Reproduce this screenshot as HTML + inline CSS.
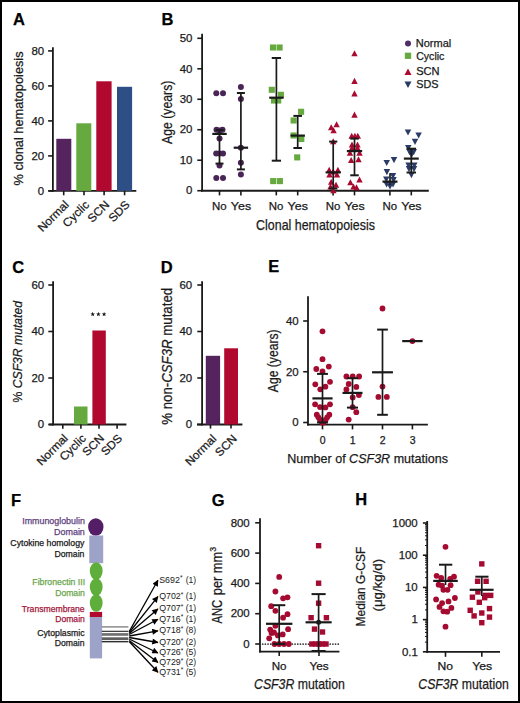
<!DOCTYPE html>
<html><head><meta charset="utf-8"><style>
html,body{margin:0;padding:0;background:#fff;}
.fig{position:relative;width:516px;height:699px;border:2px solid #000;overflow:hidden;background:#fff;}
svg{position:absolute;left:-2px;top:-2px;}
text{font-family:"Liberation Sans", sans-serif;}
</style></head><body><div class="fig">
<svg width="520" height="703" viewBox="0 0 520 703">
<text x="13.09" y="24.70" font-size="16.5" fill="#000" stroke="#000" stroke-width="0.25" font-weight="bold" textLength="11.92" lengthAdjust="spacingAndGlyphs">A</text>
<line x1="52.90" y1="47.20" x2="52.90" y2="191.80" stroke="#1a1a1a" stroke-width="1.8"/>
<line x1="48.10" y1="190.90" x2="52.90" y2="190.90" stroke="#1a1a1a" stroke-width="1.6"/>
<text x="37.78" y="194.65" font-size="10.8" fill="#1a1a1a" stroke="#1a1a1a" stroke-width="0.25" textLength="6.37" lengthAdjust="spacingAndGlyphs">0</text>
<line x1="48.10" y1="155.90" x2="52.90" y2="155.90" stroke="#1a1a1a" stroke-width="1.6"/>
<text x="31.41" y="159.65" font-size="10.8" fill="#1a1a1a" stroke="#1a1a1a" stroke-width="0.25" textLength="12.73" lengthAdjust="spacingAndGlyphs">20</text>
<line x1="48.10" y1="120.90" x2="52.90" y2="120.90" stroke="#1a1a1a" stroke-width="1.6"/>
<text x="31.41" y="124.65" font-size="10.8" fill="#1a1a1a" stroke="#1a1a1a" stroke-width="0.25" textLength="12.73" lengthAdjust="spacingAndGlyphs">40</text>
<line x1="48.10" y1="85.90" x2="52.90" y2="85.90" stroke="#1a1a1a" stroke-width="1.6"/>
<text x="31.41" y="89.65" font-size="10.8" fill="#1a1a1a" stroke="#1a1a1a" stroke-width="0.25" textLength="12.73" lengthAdjust="spacingAndGlyphs">60</text>
<line x1="48.10" y1="50.90" x2="52.90" y2="50.90" stroke="#1a1a1a" stroke-width="1.6"/>
<text x="31.41" y="54.65" font-size="10.8" fill="#1a1a1a" stroke="#1a1a1a" stroke-width="0.25" textLength="12.73" lengthAdjust="spacingAndGlyphs">80</text>
<line x1="48.60" y1="190.90" x2="136.30" y2="190.90" stroke="#1a1a1a" stroke-width="1.8"/>
<rect x="56.30" y="138.80" width="15.00" height="52.10" fill="#55245f"/>
<line x1="63.70" y1="190.90" x2="63.70" y2="195.30" stroke="#1a1a1a" stroke-width="1.6"/>
<rect x="76.30" y="123.30" width="15.00" height="67.60" fill="#66aa3f"/>
<line x1="84.00" y1="190.90" x2="84.00" y2="195.30" stroke="#1a1a1a" stroke-width="1.6"/>
<rect x="96.30" y="81.30" width="15.30" height="109.60" fill="#b0082e"/>
<line x1="104.10" y1="190.90" x2="104.10" y2="195.30" stroke="#1a1a1a" stroke-width="1.6"/>
<rect x="117.00" y="86.80" width="15.10" height="104.10" fill="#2e4f86"/>
<line x1="124.60" y1="190.90" x2="124.60" y2="195.30" stroke="#1a1a1a" stroke-width="1.6"/>
<text x="0" y="0" font-size="11.6" fill="#1a1a1a" stroke="#1a1a1a" stroke-width="0.25" text-anchor="end" textLength="38.50" lengthAdjust="spacingAndGlyphs" transform="translate(69.60,205.40) rotate(-45)">Normal</text>
<text x="0" y="0" font-size="11.6" fill="#1a1a1a" stroke="#1a1a1a" stroke-width="0.25" text-anchor="end" textLength="31.86" lengthAdjust="spacingAndGlyphs" transform="translate(89.90,205.40) rotate(-45)">Cyclic</text>
<text x="0" y="0" font-size="11.6" fill="#1a1a1a" stroke="#1a1a1a" stroke-width="0.25" text-anchor="end" textLength="25.23" lengthAdjust="spacingAndGlyphs" transform="translate(110.00,205.40) rotate(-45)">SCN</text>
<text x="0" y="0" font-size="11.6" fill="#1a1a1a" stroke="#1a1a1a" stroke-width="0.25" text-anchor="end" textLength="24.57" lengthAdjust="spacingAndGlyphs" transform="translate(130.50,205.40) rotate(-45)">SDS</text>
<text x="0" y="0" font-size="13.2" fill="#1a1a1a" stroke="#1a1a1a" stroke-width="0.25" textLength="134.02" lengthAdjust="spacingAndGlyphs" transform="translate(22.50,185.45) rotate(-90)">% clonal hematopoiesis</text>
<text x="161.40" y="24.70" font-size="16.5" fill="#000" stroke="#000" stroke-width="0.25" font-weight="bold" textLength="11.92" lengthAdjust="spacingAndGlyphs">B</text>
<line x1="202.10" y1="33.80" x2="202.10" y2="191.60" stroke="#1a1a1a" stroke-width="1.8"/>
<line x1="197.30" y1="190.70" x2="202.10" y2="190.70" stroke="#1a1a1a" stroke-width="1.6"/>
<text x="186.08" y="194.45" font-size="10.8" fill="#1a1a1a" stroke="#1a1a1a" stroke-width="0.25" textLength="6.37" lengthAdjust="spacingAndGlyphs">0</text>
<line x1="197.30" y1="160.22" x2="202.10" y2="160.22" stroke="#1a1a1a" stroke-width="1.6"/>
<text x="179.71" y="163.97" font-size="10.8" fill="#1a1a1a" stroke="#1a1a1a" stroke-width="0.25" textLength="12.73" lengthAdjust="spacingAndGlyphs">10</text>
<line x1="197.30" y1="129.74" x2="202.10" y2="129.74" stroke="#1a1a1a" stroke-width="1.6"/>
<text x="179.71" y="133.49" font-size="10.8" fill="#1a1a1a" stroke="#1a1a1a" stroke-width="0.25" textLength="12.73" lengthAdjust="spacingAndGlyphs">20</text>
<line x1="197.30" y1="99.26" x2="202.10" y2="99.26" stroke="#1a1a1a" stroke-width="1.6"/>
<text x="179.71" y="103.01" font-size="10.8" fill="#1a1a1a" stroke="#1a1a1a" stroke-width="0.25" textLength="12.73" lengthAdjust="spacingAndGlyphs">30</text>
<line x1="197.30" y1="68.78" x2="202.10" y2="68.78" stroke="#1a1a1a" stroke-width="1.6"/>
<text x="179.71" y="72.53" font-size="10.8" fill="#1a1a1a" stroke="#1a1a1a" stroke-width="0.25" textLength="12.73" lengthAdjust="spacingAndGlyphs">40</text>
<line x1="197.30" y1="38.30" x2="202.10" y2="38.30" stroke="#1a1a1a" stroke-width="1.6"/>
<text x="179.71" y="42.05" font-size="10.8" fill="#1a1a1a" stroke="#1a1a1a" stroke-width="0.25" textLength="12.73" lengthAdjust="spacingAndGlyphs">50</text>
<line x1="201.00" y1="190.70" x2="428.80" y2="190.70" stroke="#1a1a1a" stroke-width="1.9"/>
<line x1="219.50" y1="190.70" x2="219.50" y2="195.40" stroke="#1a1a1a" stroke-width="1.6"/>
<text x="212.06" y="209.90" font-size="10.8" fill="#1a1a1a" stroke="#1a1a1a" stroke-width="0.25" textLength="14.62" lengthAdjust="spacingAndGlyphs">No</text>
<line x1="240.90" y1="190.70" x2="240.90" y2="195.40" stroke="#1a1a1a" stroke-width="1.6"/>
<text x="230.84" y="209.90" font-size="10.8" fill="#1a1a1a" stroke="#1a1a1a" stroke-width="0.25" textLength="20.28" lengthAdjust="spacingAndGlyphs">Yes</text>
<line x1="276.30" y1="190.70" x2="276.30" y2="195.40" stroke="#1a1a1a" stroke-width="1.6"/>
<text x="268.86" y="209.90" font-size="10.8" fill="#1a1a1a" stroke="#1a1a1a" stroke-width="0.25" textLength="14.62" lengthAdjust="spacingAndGlyphs">No</text>
<line x1="297.70" y1="190.70" x2="297.70" y2="195.40" stroke="#1a1a1a" stroke-width="1.6"/>
<text x="287.64" y="209.90" font-size="10.8" fill="#1a1a1a" stroke="#1a1a1a" stroke-width="0.25" textLength="20.28" lengthAdjust="spacingAndGlyphs">Yes</text>
<line x1="333.10" y1="190.70" x2="333.10" y2="195.40" stroke="#1a1a1a" stroke-width="1.6"/>
<text x="325.66" y="209.90" font-size="10.8" fill="#1a1a1a" stroke="#1a1a1a" stroke-width="0.25" textLength="14.62" lengthAdjust="spacingAndGlyphs">No</text>
<line x1="354.50" y1="190.70" x2="354.50" y2="195.40" stroke="#1a1a1a" stroke-width="1.6"/>
<text x="344.44" y="209.90" font-size="10.8" fill="#1a1a1a" stroke="#1a1a1a" stroke-width="0.25" textLength="20.28" lengthAdjust="spacingAndGlyphs">Yes</text>
<line x1="389.90" y1="190.70" x2="389.90" y2="195.40" stroke="#1a1a1a" stroke-width="1.6"/>
<text x="382.46" y="209.90" font-size="10.8" fill="#1a1a1a" stroke="#1a1a1a" stroke-width="0.25" textLength="14.62" lengthAdjust="spacingAndGlyphs">No</text>
<line x1="411.30" y1="190.70" x2="411.30" y2="195.40" stroke="#1a1a1a" stroke-width="1.6"/>
<text x="401.24" y="209.90" font-size="10.8" fill="#1a1a1a" stroke="#1a1a1a" stroke-width="0.25" textLength="20.28" lengthAdjust="spacingAndGlyphs">Yes</text>
<text x="256.07" y="229.80" font-size="14.6" fill="#1a1a1a" stroke="#1a1a1a" stroke-width="0.25" textLength="118.88" lengthAdjust="spacingAndGlyphs">Clonal hematopoiesis</text>
<text x="0" y="0" font-size="14.2" fill="#1a1a1a" stroke="#1a1a1a" stroke-width="0.25" textLength="63.28" lengthAdjust="spacingAndGlyphs" transform="translate(171.80,143.92) rotate(-90)">Age (years)</text>
<circle cx="408.00" cy="43.60" r="3.0" fill="#4f2d66"/>
<text x="415.80" y="46.50" font-size="10.8" fill="#1a1a1a" stroke="#1a1a1a" stroke-width="0.25" textLength="35.44" lengthAdjust="spacingAndGlyphs">Normal</text>
<rect x="404.85" y="52.65" width="6.3" height="6.3" fill="#66aa3f"/>
<text x="416.16" y="59.60" font-size="10.8" fill="#1a1a1a" stroke="#1a1a1a" stroke-width="0.25" textLength="28.22" lengthAdjust="spacingAndGlyphs">Cyclic</text>
<polygon points="404.50,75.03 411.50,75.03 408.00,68.38" fill="#b0082e"/>
<text x="416.20" y="74.60" font-size="10.8" fill="#1a1a1a" stroke="#1a1a1a" stroke-width="0.25" textLength="23.41" lengthAdjust="spacingAndGlyphs">SCN</text>
<polygon points="404.50,81.47 411.50,81.47 408.00,88.12" fill="#2a3b66"/>
<text x="416.21" y="87.70" font-size="10.8" fill="#1a1a1a" stroke="#1a1a1a" stroke-width="0.25" textLength="22.29" lengthAdjust="spacingAndGlyphs">SDS</text>
<circle cx="216.30" cy="93.30" r="3.0" fill="#4a2456"/>
<circle cx="223.00" cy="93.30" r="3.0" fill="#4a2456"/>
<circle cx="216.50" cy="129.70" r="3.0" fill="#4a2456"/>
<circle cx="222.50" cy="129.70" r="3.0" fill="#4a2456"/>
<circle cx="219.50" cy="130.50" r="3.0" fill="#4a2456"/>
<circle cx="219.50" cy="138.60" r="3.0" fill="#4a2456"/>
<circle cx="216.20" cy="153.40" r="3.0" fill="#4a2456"/>
<circle cx="223.00" cy="153.40" r="3.0" fill="#4a2456"/>
<circle cx="219.50" cy="153.40" r="3.0" fill="#4a2456"/>
<circle cx="219.50" cy="165.60" r="3.0" fill="#4a2456"/>
<circle cx="216.30" cy="178.10" r="3.0" fill="#4a2456"/>
<circle cx="223.00" cy="178.10" r="3.0" fill="#4a2456"/>
<line x1="219.50" y1="130.00" x2="219.50" y2="163.60" stroke="#1a1a1a" stroke-width="1.7"/>
<line x1="215.50" y1="130.00" x2="223.50" y2="130.00" stroke="#1a1a1a" stroke-width="2"/>
<line x1="215.50" y1="163.60" x2="223.50" y2="163.60" stroke="#1a1a1a" stroke-width="2"/>
<line x1="212.30" y1="133.90" x2="226.70" y2="133.90" stroke="#1a1a1a" stroke-width="2.2"/>
<circle cx="240.90" cy="87.00" r="3.0" fill="#4a2456"/>
<circle cx="240.90" cy="99.00" r="3.0" fill="#4a2456"/>
<circle cx="240.90" cy="147.70" r="3.0" fill="#4a2456"/>
<circle cx="240.90" cy="162.80" r="3.0" fill="#4a2456"/>
<circle cx="240.90" cy="174.50" r="3.0" fill="#4a2456"/>
<line x1="240.90" y1="93.00" x2="240.90" y2="169.40" stroke="#1a1a1a" stroke-width="1.7"/>
<line x1="236.90" y1="93.00" x2="244.90" y2="93.00" stroke="#1a1a1a" stroke-width="2"/>
<line x1="236.90" y1="169.40" x2="244.90" y2="169.40" stroke="#1a1a1a" stroke-width="2"/>
<line x1="233.70" y1="147.70" x2="248.10" y2="147.70" stroke="#1a1a1a" stroke-width="2.2"/>
<rect x="269.95" y="44.45" width="6.1" height="6.1" fill="#66aa3f"/>
<rect x="276.55" y="44.45" width="6.1" height="6.1" fill="#66aa3f"/>
<rect x="268.75" y="86.75" width="6.1" height="6.1" fill="#66aa3f"/>
<rect x="277.85" y="91.75" width="6.1" height="6.1" fill="#66aa3f"/>
<rect x="270.95" y="97.45" width="6.1" height="6.1" fill="#66aa3f"/>
<rect x="275.15" y="97.45" width="6.1" height="6.1" fill="#66aa3f"/>
<rect x="270.15" y="178.05" width="6.1" height="6.1" fill="#66aa3f"/>
<rect x="276.85" y="178.05" width="6.1" height="6.1" fill="#66aa3f"/>
<line x1="276.40" y1="58.00" x2="276.40" y2="160.70" stroke="#1a1a1a" stroke-width="1.7"/>
<line x1="271.75" y1="58.00" x2="281.05" y2="58.00" stroke="#1a1a1a" stroke-width="2"/>
<line x1="271.75" y1="160.70" x2="281.05" y2="160.70" stroke="#1a1a1a" stroke-width="2"/>
<line x1="269.20" y1="97.70" x2="283.60" y2="97.70" stroke="#1a1a1a" stroke-width="2.2"/>
<rect x="298.05" y="108.75" width="6.1" height="6.1" fill="#66aa3f"/>
<rect x="290.55" y="117.45" width="6.1" height="6.1" fill="#66aa3f"/>
<rect x="290.55" y="132.45" width="6.1" height="6.1" fill="#66aa3f"/>
<rect x="298.25" y="135.95" width="6.1" height="6.1" fill="#66aa3f"/>
<rect x="294.15" y="154.35" width="6.1" height="6.1" fill="#66aa3f"/>
<line x1="297.70" y1="115.90" x2="297.70" y2="148.00" stroke="#1a1a1a" stroke-width="1.7"/>
<line x1="293.40" y1="115.90" x2="302.00" y2="115.90" stroke="#1a1a1a" stroke-width="2"/>
<line x1="293.40" y1="148.00" x2="302.00" y2="148.00" stroke="#1a1a1a" stroke-width="2"/>
<line x1="290.50" y1="135.60" x2="304.90" y2="135.60" stroke="#1a1a1a" stroke-width="2.2"/>
<polygon points="333.40,127.24 339.80,127.24 336.60,121.16" fill="#a80a30"/>
<polygon points="328.00,130.24 334.40,130.24 331.20,124.16" fill="#a80a30"/>
<polygon points="330.40,133.24 336.80,133.24 333.60,127.16" fill="#a80a30"/>
<polygon points="330.00,144.24 336.40,144.24 333.20,138.16" fill="#a80a30"/>
<polygon points="326.00,172.84 332.40,172.84 329.20,166.76" fill="#a80a30"/>
<polygon points="334.70,172.84 341.10,172.84 337.90,166.76" fill="#a80a30"/>
<polygon points="330.00,174.54 336.40,174.54 333.20,168.46" fill="#a80a30"/>
<polygon points="326.30,177.54 332.70,177.54 329.50,171.46" fill="#a80a30"/>
<polygon points="333.80,177.54 340.20,177.54 337.00,171.46" fill="#a80a30"/>
<polygon points="328.00,184.84 334.40,184.84 331.20,178.76" fill="#a80a30"/>
<polygon points="332.80,187.84 339.20,187.84 336.00,181.76" fill="#a80a30"/>
<polygon points="327.30,189.54 333.70,189.54 330.50,183.46" fill="#a80a30"/>
<polygon points="330.20,193.34 336.60,193.34 333.40,187.26" fill="#a80a30"/>
<line x1="333.20" y1="141.60" x2="333.20" y2="188.50" stroke="#1a1a1a" stroke-width="1.7"/>
<line x1="329.10" y1="141.60" x2="337.30" y2="141.60" stroke="#1a1a1a" stroke-width="2"/>
<line x1="329.10" y1="188.50" x2="337.30" y2="188.50" stroke="#1a1a1a" stroke-width="2"/>
<line x1="325.60" y1="172.40" x2="340.80" y2="172.40" stroke="#1a1a1a" stroke-width="2.2"/>
<polygon points="351.30,56.34 357.70,56.34 354.50,50.26" fill="#a80a30"/>
<polygon points="351.30,83.94 357.70,83.94 354.50,77.86" fill="#a80a30"/>
<polygon points="351.30,96.44 357.70,96.44 354.50,90.36" fill="#a80a30"/>
<polygon points="351.30,117.64 357.70,117.64 354.50,111.56" fill="#a80a30"/>
<polygon points="348.50,138.84 354.90,138.84 351.70,132.76" fill="#a80a30"/>
<polygon points="351.70,138.84 358.10,138.84 354.90,132.76" fill="#a80a30"/>
<polygon points="354.60,138.84 361.00,138.84 357.80,132.76" fill="#a80a30"/>
<polygon points="348.80,147.54 355.20,147.54 352.00,141.46" fill="#a80a30"/>
<polygon points="354.30,147.54 360.70,147.54 357.50,141.46" fill="#a80a30"/>
<polygon points="348.80,150.84 355.20,150.84 352.00,144.76" fill="#a80a30"/>
<polygon points="354.30,150.84 360.70,150.84 357.50,144.76" fill="#a80a30"/>
<polygon points="346.80,155.84 353.20,155.84 350.00,149.76" fill="#a80a30"/>
<polygon points="356.30,155.84 362.70,155.84 359.50,149.76" fill="#a80a30"/>
<polygon points="348.00,163.04 354.40,163.04 351.20,156.96" fill="#a80a30"/>
<polygon points="355.30,162.24 361.70,162.24 358.50,156.16" fill="#a80a30"/>
<polygon points="356.30,182.54 362.70,182.54 359.50,176.46" fill="#a80a30"/>
<polygon points="347.20,185.24 353.60,185.24 350.40,179.16" fill="#a80a30"/>
<polygon points="350.30,189.54 356.70,189.54 353.50,183.46" fill="#a80a30"/>
<polygon points="353.30,190.24 359.70,190.24 356.50,184.16" fill="#a80a30"/>
<line x1="354.50" y1="138.60" x2="354.50" y2="175.30" stroke="#1a1a1a" stroke-width="1.7"/>
<line x1="350.25" y1="138.60" x2="358.75" y2="138.60" stroke="#1a1a1a" stroke-width="2"/>
<line x1="350.25" y1="175.30" x2="358.75" y2="175.30" stroke="#1a1a1a" stroke-width="2"/>
<line x1="346.85" y1="151.10" x2="362.15" y2="151.10" stroke="#1a1a1a" stroke-width="2.2"/>
<polygon points="383.45,159.91 389.95,159.91 386.70,166.09" fill="#2a3b66"/>
<polygon points="390.75,157.11 397.25,157.11 394.00,163.29" fill="#2a3b66"/>
<polygon points="383.65,169.01 390.15,169.01 386.90,175.19" fill="#2a3b66"/>
<polygon points="389.75,172.91 396.25,172.91 393.00,179.09" fill="#2a3b66"/>
<polygon points="383.05,176.41 389.55,176.41 386.30,182.59" fill="#2a3b66"/>
<polygon points="390.25,176.91 396.75,176.91 393.50,183.09" fill="#2a3b66"/>
<polygon points="383.35,181.41 389.85,181.41 386.60,187.59" fill="#2a3b66"/>
<polygon points="386.75,183.41 393.25,183.41 390.00,189.59" fill="#2a3b66"/>
<polygon points="389.75,181.41 396.25,181.41 393.00,187.59" fill="#2a3b66"/>
<line x1="390.00" y1="173.20" x2="390.00" y2="185.00" stroke="#1a1a1a" stroke-width="1.7"/>
<line x1="390.00" y1="173.20" x2="390.00" y2="173.20" stroke="#1a1a1a" stroke-width="2"/>
<line x1="390.00" y1="185.00" x2="390.00" y2="185.00" stroke="#1a1a1a" stroke-width="2"/>
<line x1="382.50" y1="181.60" x2="397.50" y2="181.60" stroke="#1a1a1a" stroke-width="2.2"/>
<polygon points="404.75,129.41 411.25,129.41 408.00,135.59" fill="#2a3b66"/>
<polygon points="415.35,132.41 421.85,132.41 418.60,138.59" fill="#2a3b66"/>
<polygon points="411.75,138.71 418.25,138.71 415.00,144.89" fill="#2a3b66"/>
<polygon points="405.05,144.91 411.55,144.91 408.30,151.09" fill="#2a3b66"/>
<polygon points="406.25,149.11 412.75,149.11 409.50,155.29" fill="#2a3b66"/>
<polygon points="410.45,149.11 416.95,149.11 413.70,155.29" fill="#2a3b66"/>
<polygon points="408.25,151.91 414.75,151.91 411.50,158.09" fill="#2a3b66"/>
<polygon points="405.35,162.41 411.85,162.41 408.60,168.59" fill="#2a3b66"/>
<polygon points="411.05,162.41 417.55,162.41 414.30,168.59" fill="#2a3b66"/>
<polygon points="405.75,166.11 412.25,166.11 409.00,172.29" fill="#2a3b66"/>
<polygon points="410.75,166.11 417.25,166.11 414.00,172.29" fill="#2a3b66"/>
<polygon points="408.15,172.11 414.65,172.11 411.40,178.29" fill="#2a3b66"/>
<line x1="411.30" y1="148.70" x2="411.30" y2="172.50" stroke="#1a1a1a" stroke-width="1.7"/>
<line x1="406.55" y1="148.70" x2="416.05" y2="148.70" stroke="#1a1a1a" stroke-width="2"/>
<line x1="406.55" y1="172.50" x2="416.05" y2="172.50" stroke="#1a1a1a" stroke-width="2"/>
<line x1="403.85" y1="158.60" x2="418.75" y2="158.60" stroke="#1a1a1a" stroke-width="2.2"/>
<text x="12.32" y="272.80" font-size="16.5" fill="#000" stroke="#000" stroke-width="0.25" font-weight="bold" textLength="11.92" lengthAdjust="spacingAndGlyphs">C</text>
<line x1="53.10" y1="281.20" x2="53.10" y2="425.50" stroke="#1a1a1a" stroke-width="1.8"/>
<line x1="48.30" y1="424.50" x2="53.10" y2="424.50" stroke="#1a1a1a" stroke-width="1.6"/>
<text x="37.88" y="428.25" font-size="10.8" fill="#1a1a1a" stroke="#1a1a1a" stroke-width="0.25" textLength="6.37" lengthAdjust="spacingAndGlyphs">0</text>
<line x1="48.30" y1="378.00" x2="53.10" y2="378.00" stroke="#1a1a1a" stroke-width="1.6"/>
<text x="31.51" y="381.75" font-size="10.8" fill="#1a1a1a" stroke="#1a1a1a" stroke-width="0.25" textLength="12.73" lengthAdjust="spacingAndGlyphs">20</text>
<line x1="48.30" y1="331.50" x2="53.10" y2="331.50" stroke="#1a1a1a" stroke-width="1.6"/>
<text x="31.51" y="335.25" font-size="10.8" fill="#1a1a1a" stroke="#1a1a1a" stroke-width="0.25" textLength="12.73" lengthAdjust="spacingAndGlyphs">40</text>
<line x1="48.30" y1="285.00" x2="53.10" y2="285.00" stroke="#1a1a1a" stroke-width="1.6"/>
<text x="31.51" y="288.75" font-size="10.8" fill="#1a1a1a" stroke="#1a1a1a" stroke-width="0.25" textLength="12.73" lengthAdjust="spacingAndGlyphs">60</text>
<line x1="48.80" y1="424.50" x2="126.40" y2="424.50" stroke="#1a1a1a" stroke-width="1.8"/>
<rect x="74.00" y="406.50" width="13.50" height="18.00" fill="#66aa3f"/>
<rect x="92.40" y="330.50" width="13.40" height="94.00" fill="#b0082e"/>
<line x1="62.80" y1="424.50" x2="62.80" y2="428.80" stroke="#1a1a1a" stroke-width="1.6"/>
<line x1="80.90" y1="424.50" x2="80.90" y2="428.80" stroke="#1a1a1a" stroke-width="1.6"/>
<line x1="99.00" y1="424.50" x2="99.00" y2="428.80" stroke="#1a1a1a" stroke-width="1.6"/>
<line x1="117.10" y1="424.50" x2="117.10" y2="428.80" stroke="#1a1a1a" stroke-width="1.6"/>
<text x="0" y="0" font-size="11.6" fill="#1a1a1a" stroke="#1a1a1a" stroke-width="0.25" text-anchor="end" textLength="38.50" lengthAdjust="spacingAndGlyphs" transform="translate(68.70,439.00) rotate(-45)">Normal</text>
<text x="0" y="0" font-size="11.6" fill="#1a1a1a" stroke="#1a1a1a" stroke-width="0.25" text-anchor="end" textLength="31.86" lengthAdjust="spacingAndGlyphs" transform="translate(86.80,439.00) rotate(-45)">Cyclic</text>
<text x="0" y="0" font-size="11.6" fill="#1a1a1a" stroke="#1a1a1a" stroke-width="0.25" text-anchor="end" textLength="25.23" lengthAdjust="spacingAndGlyphs" transform="translate(104.90,439.00) rotate(-45)">SCN</text>
<text x="0" y="0" font-size="11.6" fill="#1a1a1a" stroke="#1a1a1a" stroke-width="0.25" text-anchor="end" textLength="24.57" lengthAdjust="spacingAndGlyphs" transform="translate(123.00,439.00) rotate(-45)">SDS</text>
<polygon points="92.70,311.85 93.29,313.49 95.03,313.54 93.65,314.61 94.14,316.28 92.70,315.30 91.26,316.28 91.75,314.61 90.37,313.54 92.11,313.49" fill="#111"/>
<polygon points="98.40,311.85 98.99,313.49 100.73,313.54 99.35,314.61 99.84,316.28 98.40,315.30 96.96,316.28 97.45,314.61 96.07,313.54 97.81,313.49" fill="#111"/>
<polygon points="104.10,311.85 104.69,313.49 106.43,313.54 105.05,314.61 105.54,316.28 104.10,315.30 102.66,316.28 103.15,314.61 101.77,313.54 103.51,313.49" fill="#111"/>
<text x="0" y="0" font-size="13.6" fill="#1a1a1a" stroke="#1a1a1a" stroke-width="0.25" textLength="101.41" lengthAdjust="spacingAndGlyphs" transform="translate(22.40,402.43) rotate(-90)">% <tspan font-style="italic">CSF3R mutated</tspan></text>
<text x="160.80" y="272.80" font-size="16.5" fill="#000" stroke="#000" stroke-width="0.25" font-weight="bold" textLength="11.92" lengthAdjust="spacingAndGlyphs">D</text>
<line x1="202.10" y1="281.20" x2="202.10" y2="425.50" stroke="#1a1a1a" stroke-width="1.8"/>
<line x1="197.30" y1="424.50" x2="202.10" y2="424.50" stroke="#1a1a1a" stroke-width="1.6"/>
<text x="185.78" y="428.25" font-size="10.8" fill="#1a1a1a" stroke="#1a1a1a" stroke-width="0.25" textLength="6.37" lengthAdjust="spacingAndGlyphs">0</text>
<line x1="197.30" y1="378.00" x2="202.10" y2="378.00" stroke="#1a1a1a" stroke-width="1.6"/>
<text x="179.41" y="381.75" font-size="10.8" fill="#1a1a1a" stroke="#1a1a1a" stroke-width="0.25" textLength="12.73" lengthAdjust="spacingAndGlyphs">20</text>
<line x1="197.30" y1="331.50" x2="202.10" y2="331.50" stroke="#1a1a1a" stroke-width="1.6"/>
<text x="179.41" y="335.25" font-size="10.8" fill="#1a1a1a" stroke="#1a1a1a" stroke-width="0.25" textLength="12.73" lengthAdjust="spacingAndGlyphs">40</text>
<line x1="197.30" y1="285.00" x2="202.10" y2="285.00" stroke="#1a1a1a" stroke-width="1.6"/>
<text x="179.41" y="288.75" font-size="10.8" fill="#1a1a1a" stroke="#1a1a1a" stroke-width="0.25" textLength="12.73" lengthAdjust="spacingAndGlyphs">60</text>
<line x1="197.00" y1="424.50" x2="242.40" y2="424.50" stroke="#1a1a1a" stroke-width="1.8"/>
<rect x="205.80" y="355.80" width="14.30" height="68.80" fill="#55245f"/>
<rect x="224.20" y="348.30" width="13.80" height="76.20" fill="#b0082e"/>
<line x1="210.50" y1="424.50" x2="210.50" y2="428.60" stroke="#1a1a1a" stroke-width="1.6"/>
<line x1="231.00" y1="424.50" x2="231.00" y2="428.60" stroke="#1a1a1a" stroke-width="1.6"/>
<text x="0" y="0" font-size="11.6" fill="#1a1a1a" stroke="#1a1a1a" stroke-width="0.25" text-anchor="end" textLength="38.50" lengthAdjust="spacingAndGlyphs" transform="translate(217.10,439.40) rotate(-45)">Normal</text>
<text x="0" y="0" font-size="11.6" fill="#1a1a1a" stroke="#1a1a1a" stroke-width="0.25" text-anchor="end" textLength="25.23" lengthAdjust="spacingAndGlyphs" transform="translate(237.60,439.40) rotate(-45)">SCN</text>
<text x="0" y="0" font-size="14.0" fill="#1a1a1a" stroke="#1a1a1a" stroke-width="0.25" textLength="136.93" lengthAdjust="spacingAndGlyphs" transform="translate(171.60,424.77) rotate(-90)">% non-<tspan font-style="italic">CSF3R</tspan> mutated</text>
<text x="268.20" y="272.40" font-size="16.5" fill="#000" stroke="#000" stroke-width="0.25" font-weight="bold" textLength="11.01" lengthAdjust="spacingAndGlyphs">E</text>
<line x1="308.00" y1="296.20" x2="308.00" y2="425.50" stroke="#1a1a1a" stroke-width="1.8"/>
<line x1="303.20" y1="422.50" x2="308.00" y2="422.50" stroke="#1a1a1a" stroke-width="1.6"/>
<text x="292.28" y="426.25" font-size="10.8" fill="#1a1a1a" stroke="#1a1a1a" stroke-width="0.25" textLength="6.37" lengthAdjust="spacingAndGlyphs">0</text>
<line x1="303.20" y1="371.75" x2="308.00" y2="371.75" stroke="#1a1a1a" stroke-width="1.6"/>
<text x="285.91" y="375.50" font-size="10.8" fill="#1a1a1a" stroke="#1a1a1a" stroke-width="0.25" textLength="12.73" lengthAdjust="spacingAndGlyphs">20</text>
<line x1="303.20" y1="321.00" x2="308.00" y2="321.00" stroke="#1a1a1a" stroke-width="1.6"/>
<text x="285.91" y="324.75" font-size="10.8" fill="#1a1a1a" stroke="#1a1a1a" stroke-width="0.25" textLength="12.73" lengthAdjust="spacingAndGlyphs">40</text>
<line x1="307.00" y1="424.60" x2="427.90" y2="424.60" stroke="#1a1a1a" stroke-width="1.8"/>
<line x1="322.50" y1="424.60" x2="322.50" y2="429.40" stroke="#1a1a1a" stroke-width="1.6"/>
<text x="319.88" y="444.10" font-size="10" fill="#1a1a1a" stroke="#1a1a1a" stroke-width="0.25" textLength="5.84" lengthAdjust="spacingAndGlyphs">0</text>
<line x1="352.50" y1="424.60" x2="352.50" y2="429.40" stroke="#1a1a1a" stroke-width="1.6"/>
<text x="349.74" y="444.10" font-size="10" fill="#1a1a1a" stroke="#1a1a1a" stroke-width="0.25" textLength="5.84" lengthAdjust="spacingAndGlyphs">1</text>
<line x1="382.50" y1="424.60" x2="382.50" y2="429.40" stroke="#1a1a1a" stroke-width="1.6"/>
<text x="379.88" y="444.10" font-size="10" fill="#1a1a1a" stroke="#1a1a1a" stroke-width="0.25" textLength="5.84" lengthAdjust="spacingAndGlyphs">2</text>
<line x1="412.40" y1="424.60" x2="412.40" y2="429.40" stroke="#1a1a1a" stroke-width="1.6"/>
<text x="409.81" y="444.10" font-size="10" fill="#1a1a1a" stroke="#1a1a1a" stroke-width="0.25" textLength="5.84" lengthAdjust="spacingAndGlyphs">3</text>
<text x="287.17" y="463.20" font-size="13.6" fill="#1a1a1a" stroke="#1a1a1a" stroke-width="0.25" textLength="160.78" lengthAdjust="spacingAndGlyphs">Number of <tspan font-style="italic">CSF3R</tspan> mutations</text>
<text x="0" y="0" font-size="14.2" fill="#1a1a1a" stroke="#1a1a1a" stroke-width="0.25" textLength="62.78" lengthAdjust="spacingAndGlyphs" transform="translate(277.80,392.22) rotate(-90)">Age (years)</text>
<circle cx="322.50" cy="331.30" r="2.9" fill="#a50b30"/>
<circle cx="322.50" cy="359.20" r="2.9" fill="#a50b30"/>
<circle cx="316.30" cy="369.00" r="2.9" fill="#a50b30"/>
<circle cx="328.80" cy="366.60" r="2.9" fill="#a50b30"/>
<circle cx="322.50" cy="371.40" r="2.9" fill="#a50b30"/>
<circle cx="315.30" cy="384.30" r="2.9" fill="#a50b30"/>
<circle cx="330.00" cy="381.80" r="2.9" fill="#a50b30"/>
<circle cx="325.40" cy="386.70" r="2.9" fill="#a50b30"/>
<circle cx="320.30" cy="389.30" r="2.9" fill="#a50b30"/>
<circle cx="315.10" cy="404.30" r="2.9" fill="#a50b30"/>
<circle cx="330.00" cy="404.30" r="2.9" fill="#a50b30"/>
<circle cx="320.00" cy="407.10" r="2.9" fill="#a50b30"/>
<circle cx="325.40" cy="407.40" r="2.9" fill="#a50b30"/>
<circle cx="316.80" cy="414.70" r="2.9" fill="#a50b30"/>
<circle cx="329.30" cy="414.70" r="2.9" fill="#a50b30"/>
<circle cx="318.40" cy="417.30" r="2.9" fill="#a50b30"/>
<circle cx="327.20" cy="417.30" r="2.9" fill="#a50b30"/>
<circle cx="320.00" cy="419.90" r="2.9" fill="#a50b30"/>
<circle cx="325.60" cy="419.90" r="2.9" fill="#a50b30"/>
<circle cx="322.00" cy="422.50" r="2.9" fill="#a50b30"/>
<circle cx="323.60" cy="422.50" r="2.9" fill="#a50b30"/>
<line x1="322.50" y1="373.90" x2="322.50" y2="422.50" stroke="#1a1a1a" stroke-width="1.7"/>
<line x1="317.05" y1="373.90" x2="327.95" y2="373.90" stroke="#1a1a1a" stroke-width="2"/>
<line x1="317.05" y1="422.50" x2="327.95" y2="422.50" stroke="#1a1a1a" stroke-width="2"/>
<line x1="312.40" y1="398.40" x2="332.60" y2="398.40" stroke="#1a1a1a" stroke-width="2.2"/>
<circle cx="346.40" cy="376.50" r="2.9" fill="#a50b30"/>
<circle cx="352.70" cy="376.50" r="2.9" fill="#a50b30"/>
<circle cx="359.10" cy="376.50" r="2.9" fill="#a50b30"/>
<circle cx="348.70" cy="384.00" r="2.9" fill="#a50b30"/>
<circle cx="356.30" cy="386.90" r="2.9" fill="#a50b30"/>
<circle cx="346.40" cy="389.50" r="2.9" fill="#a50b30"/>
<circle cx="358.90" cy="395.10" r="2.9" fill="#a50b30"/>
<circle cx="352.70" cy="397.40" r="2.9" fill="#a50b30"/>
<circle cx="352.70" cy="407.20" r="2.9" fill="#a50b30"/>
<circle cx="356.30" cy="412.20" r="2.9" fill="#a50b30"/>
<circle cx="348.70" cy="419.60" r="2.9" fill="#a50b30"/>
<line x1="352.50" y1="378.20" x2="352.50" y2="407.60" stroke="#1a1a1a" stroke-width="1.7"/>
<line x1="346.95" y1="378.20" x2="358.05" y2="378.20" stroke="#1a1a1a" stroke-width="2"/>
<line x1="346.95" y1="407.60" x2="358.05" y2="407.60" stroke="#1a1a1a" stroke-width="2"/>
<line x1="342.50" y1="392.90" x2="362.50" y2="392.90" stroke="#1a1a1a" stroke-width="2.2"/>
<circle cx="382.50" cy="308.50" r="2.9" fill="#a50b30"/>
<circle cx="382.50" cy="386.60" r="2.9" fill="#a50b30"/>
<circle cx="378.40" cy="396.90" r="2.9" fill="#a50b30"/>
<circle cx="386.80" cy="396.90" r="2.9" fill="#a50b30"/>
<line x1="382.50" y1="329.60" x2="382.50" y2="414.80" stroke="#1a1a1a" stroke-width="1.7"/>
<line x1="377.15" y1="329.60" x2="387.85" y2="329.60" stroke="#1a1a1a" stroke-width="2"/>
<line x1="377.15" y1="414.80" x2="387.85" y2="414.80" stroke="#1a1a1a" stroke-width="2"/>
<line x1="372.05" y1="372.30" x2="392.95" y2="372.30" stroke="#1a1a1a" stroke-width="2.2"/>
<circle cx="412.40" cy="341.10" r="2.9" fill="#a50b30"/>
<line x1="402.20" y1="341.10" x2="422.60" y2="341.10" stroke="#1a1a1a" stroke-width="2.2"/>
<text x="11.00" y="505.60" font-size="16.5" fill="#000" stroke="#000" stroke-width="0.25" font-weight="bold" textLength="10.08" lengthAdjust="spacingAndGlyphs">F</text>
<ellipse cx="95.8" cy="527" rx="7.7" ry="8.7" fill="#531e66"/>
<rect x="89.30" y="535.50" width="13.90" height="27.70" fill="#9da2c9"/>
<ellipse cx="96.2" cy="571" rx="6.4" ry="8.7" fill="#5eae3c"/>
<ellipse cx="96.2" cy="587" rx="6.4" ry="8.7" fill="#5eae3c"/>
<ellipse cx="96.2" cy="603" rx="6.4" ry="8.7" fill="#5eae3c"/>
<rect x="89.80" y="611.90" width="12.30" height="5.20" fill="#b0082e"/>
<rect x="89.80" y="617.00" width="12.30" height="41.40" fill="#9da2c9"/>
<text x="22.28" y="524.30" font-size="8.6" fill="#5e3f7e" stroke="#5e3f7e" stroke-width="0.25" textLength="62.59" lengthAdjust="spacingAndGlyphs">Immunoglobulin</text>
<text x="53.96" y="534.80" font-size="8.6" fill="#5e3f7e" stroke="#5e3f7e" stroke-width="0.25" textLength="30.92" lengthAdjust="spacingAndGlyphs">Domain</text>
<text x="10.36" y="546.30" font-size="8.6" fill="#1a1a1a" stroke="#1a1a1a" stroke-width="0.25" textLength="73.96" lengthAdjust="spacingAndGlyphs">Cytokine homology</text>
<text x="54.49" y="557.10" font-size="8.6" fill="#1a1a1a" stroke="#1a1a1a" stroke-width="0.25" textLength="29.98" lengthAdjust="spacingAndGlyphs">Domain</text>
<text x="32.39" y="585.20" font-size="8.6" fill="#6aa64c" stroke="#6aa64c" stroke-width="0.25" textLength="52.72" lengthAdjust="spacingAndGlyphs">Fibronectin III</text>
<text x="55.19" y="595.50" font-size="8.6" fill="#6aa64c" stroke="#6aa64c" stroke-width="0.25" textLength="29.67" lengthAdjust="spacingAndGlyphs">Domain</text>
<text x="21.81" y="611.60" font-size="8.6" fill="#a3173d" stroke="#a3173d" stroke-width="0.25" textLength="62.87" lengthAdjust="spacingAndGlyphs">Transmembrane</text>
<text x="55.19" y="622.10" font-size="8.6" fill="#a3173d" stroke="#a3173d" stroke-width="0.25" textLength="29.67" lengthAdjust="spacingAndGlyphs">Domain</text>
<text x="37.26" y="635.50" font-size="8.6" fill="#1a1a1a" stroke="#1a1a1a" stroke-width="0.25" textLength="47.27" lengthAdjust="spacingAndGlyphs">Cytoplasmic</text>
<text x="54.69" y="645.50" font-size="8.6" fill="#1a1a1a" stroke="#1a1a1a" stroke-width="0.25" textLength="29.77" lengthAdjust="spacingAndGlyphs">Domain</text>
<line x1="101.80" y1="626.90" x2="128.40" y2="626.90" stroke="#7a7a7a" stroke-width="1.3"/>
<line x1="101.80" y1="631.30" x2="128.40" y2="631.30" stroke="#222" stroke-width="1.1"/>
<rect x="101.80" y="633.10" width="26.60" height="2.70" fill="#707070"/>
<rect x="101.80" y="637.30" width="26.60" height="2.80" fill="#606060"/>
<line x1="101.80" y1="641.70" x2="128.40" y2="641.70" stroke="#222" stroke-width="1.3"/>
<defs><marker id="ah" viewBox="0 0 10 10" refX="9" refY="5" markerWidth="7.8" markerHeight="6.2" orient="auto" markerUnits="userSpaceOnUse"><path d="M0,0 L10,5 L0,10 z" fill="#000"/></marker></defs>
<line x1="129.2" y1="631.5" x2="157.9" y2="580.30" stroke="#000" stroke-width="1.3" marker-end="url(#ah)"/>
<text x="159.20" y="582.60" font-size="8.4" fill="#1a1a1a" textLength="20.60" lengthAdjust="spacingAndGlyphs">S692</text>
<text x="179.90" y="580.40" font-size="6.5" fill="#1a1a1a">*</text>
<text x="185.66" y="582.60" font-size="8.4" fill="#1a1a1a" textLength="10.47" lengthAdjust="spacingAndGlyphs">(1)</text>
<line x1="129.2" y1="632.5" x2="157.9" y2="596.60" stroke="#000" stroke-width="1.3" marker-end="url(#ah)"/>
<text x="159.18" y="598.90" font-size="8.4" fill="#1a1a1a" textLength="21.58" lengthAdjust="spacingAndGlyphs">Q702</text>
<text x="180.86" y="596.70" font-size="6.5" fill="#1a1a1a">*</text>
<text x="185.66" y="598.90" font-size="8.4" fill="#1a1a1a" textLength="10.47" lengthAdjust="spacingAndGlyphs">(1)</text>
<line x1="129.2" y1="633.5" x2="157.9" y2="608.90" stroke="#000" stroke-width="1.3" marker-end="url(#ah)"/>
<text x="159.18" y="611.20" font-size="8.4" fill="#1a1a1a" textLength="21.58" lengthAdjust="spacingAndGlyphs">Q707</text>
<text x="180.86" y="609.00" font-size="6.5" fill="#1a1a1a">*</text>
<text x="185.66" y="611.20" font-size="8.4" fill="#1a1a1a" textLength="10.47" lengthAdjust="spacingAndGlyphs">(1)</text>
<line x1="129.2" y1="634.5" x2="157.9" y2="619.30" stroke="#000" stroke-width="1.3" marker-end="url(#ah)"/>
<text x="159.18" y="621.60" font-size="8.4" fill="#1a1a1a" textLength="21.58" lengthAdjust="spacingAndGlyphs">Q716</text>
<text x="180.86" y="619.40" font-size="6.5" fill="#1a1a1a">*</text>
<text x="185.66" y="621.60" font-size="8.4" fill="#1a1a1a" textLength="10.47" lengthAdjust="spacingAndGlyphs">(1)</text>
<line x1="129.2" y1="636" x2="157.9" y2="630.80" stroke="#000" stroke-width="1.3" marker-end="url(#ah)"/>
<text x="159.18" y="633.10" font-size="8.4" fill="#1a1a1a" textLength="21.58" lengthAdjust="spacingAndGlyphs">Q718</text>
<text x="180.86" y="630.90" font-size="6.5" fill="#1a1a1a">*</text>
<text x="185.66" y="633.10" font-size="8.4" fill="#1a1a1a" textLength="10.47" lengthAdjust="spacingAndGlyphs">(8)</text>
<line x1="129.2" y1="637.5" x2="157.9" y2="642.50" stroke="#000" stroke-width="1.3" marker-end="url(#ah)"/>
<text x="159.18" y="644.80" font-size="8.4" fill="#1a1a1a" textLength="21.58" lengthAdjust="spacingAndGlyphs">Q720</text>
<text x="180.86" y="642.60" font-size="6.5" fill="#1a1a1a">*</text>
<text x="185.66" y="644.80" font-size="8.4" fill="#1a1a1a" textLength="10.47" lengthAdjust="spacingAndGlyphs">(2)</text>
<line x1="129.2" y1="639" x2="157.9" y2="653.00" stroke="#000" stroke-width="1.3" marker-end="url(#ah)"/>
<text x="159.18" y="655.30" font-size="8.4" fill="#1a1a1a" textLength="21.58" lengthAdjust="spacingAndGlyphs">Q726</text>
<text x="180.86" y="653.10" font-size="6.5" fill="#1a1a1a">*</text>
<text x="185.66" y="655.30" font-size="8.4" fill="#1a1a1a" textLength="10.47" lengthAdjust="spacingAndGlyphs">(5)</text>
<line x1="129.2" y1="640.5" x2="157.9" y2="662.40" stroke="#000" stroke-width="1.3" marker-end="url(#ah)"/>
<text x="159.18" y="664.70" font-size="8.4" fill="#1a1a1a" textLength="21.58" lengthAdjust="spacingAndGlyphs">Q729</text>
<text x="180.86" y="662.50" font-size="6.5" fill="#1a1a1a">*</text>
<text x="185.66" y="664.70" font-size="8.4" fill="#1a1a1a" textLength="10.47" lengthAdjust="spacingAndGlyphs">(2)</text>
<line x1="129.2" y1="641.5" x2="157.9" y2="672.30" stroke="#000" stroke-width="1.3" marker-end="url(#ah)"/>
<text x="159.18" y="674.60" font-size="8.4" fill="#1a1a1a" textLength="21.58" lengthAdjust="spacingAndGlyphs">Q731</text>
<text x="180.86" y="672.40" font-size="6.5" fill="#1a1a1a">*</text>
<text x="185.66" y="674.60" font-size="8.4" fill="#1a1a1a" textLength="10.47" lengthAdjust="spacingAndGlyphs">(5)</text>
<text x="211.72" y="505.80" font-size="16.5" fill="#000" stroke="#000" stroke-width="0.25" font-weight="bold" textLength="12.83" lengthAdjust="spacingAndGlyphs">G</text>
<line x1="260.00" y1="518.20" x2="260.00" y2="652.50" stroke="#1a1a1a" stroke-width="1.8"/>
<line x1="255.20" y1="644.00" x2="260.00" y2="644.00" stroke="#1a1a1a" stroke-width="1.6"/>
<text x="243.38" y="647.75" font-size="10.8" fill="#1a1a1a" stroke="#1a1a1a" stroke-width="0.25" textLength="6.37" lengthAdjust="spacingAndGlyphs">0</text>
<line x1="255.20" y1="613.70" x2="260.00" y2="613.70" stroke="#1a1a1a" stroke-width="1.6"/>
<text x="230.65" y="617.45" font-size="10.8" fill="#1a1a1a" stroke="#1a1a1a" stroke-width="0.25" textLength="19.10" lengthAdjust="spacingAndGlyphs">200</text>
<line x1="255.20" y1="583.40" x2="260.00" y2="583.40" stroke="#1a1a1a" stroke-width="1.6"/>
<text x="230.65" y="587.15" font-size="10.8" fill="#1a1a1a" stroke="#1a1a1a" stroke-width="0.25" textLength="19.10" lengthAdjust="spacingAndGlyphs">400</text>
<line x1="255.20" y1="553.10" x2="260.00" y2="553.10" stroke="#1a1a1a" stroke-width="1.6"/>
<text x="230.65" y="556.85" font-size="10.8" fill="#1a1a1a" stroke="#1a1a1a" stroke-width="0.25" textLength="19.10" lengthAdjust="spacingAndGlyphs">600</text>
<line x1="255.20" y1="522.80" x2="260.00" y2="522.80" stroke="#1a1a1a" stroke-width="1.6"/>
<text x="230.65" y="526.55" font-size="10.8" fill="#1a1a1a" stroke="#1a1a1a" stroke-width="0.25" textLength="19.10" lengthAdjust="spacingAndGlyphs">800</text>
<line x1="259.20" y1="651.60" x2="339.40" y2="651.60" stroke="#1a1a1a" stroke-width="1.8"/>
<line x1="261.90" y1="644.00" x2="339.80" y2="644.00" stroke="#000" stroke-width="1.25" stroke-dasharray="1.5,1.2"/>
<line x1="279.20" y1="651.60" x2="279.20" y2="656.00" stroke="#1a1a1a" stroke-width="1.6"/>
<text x="271.65" y="670.10" font-size="10.8" fill="#1a1a1a" stroke="#1a1a1a" stroke-width="0.25" textLength="14.84" lengthAdjust="spacingAndGlyphs">No</text>
<line x1="319.00" y1="651.60" x2="319.00" y2="656.00" stroke="#1a1a1a" stroke-width="1.6"/>
<text x="309.45" y="670.10" font-size="10.8" fill="#1a1a1a" stroke="#1a1a1a" stroke-width="0.25" textLength="19.25" lengthAdjust="spacingAndGlyphs">Yes</text>
<text x="254.02" y="688.80" font-size="14.2" fill="#1a1a1a" stroke="#1a1a1a" stroke-width="0.25" textLength="90.88" lengthAdjust="spacingAndGlyphs"><tspan font-style="italic">CSF3R</tspan> mutation</text>
<text x="0" y="0" font-size="14.4" fill="#1a1a1a" stroke="#1a1a1a" stroke-width="0.25" textLength="23.85" lengthAdjust="spacingAndGlyphs" transform="translate(222.20,623.62) rotate(-90)">ANC</text>
<text x="0" y="0" font-size="14.4" fill="#1a1a1a" stroke="#1a1a1a" stroke-width="0.25" textLength="43.26" lengthAdjust="spacingAndGlyphs" transform="translate(222.20,595.22) rotate(-90)">per mm</text>
<text x="0" y="0" font-size="9.8" fill="#1a1a1a" stroke="#1a1a1a" stroke-width="0.25" textLength="4.93" lengthAdjust="spacingAndGlyphs" transform="translate(216.40,551.64) rotate(-90)">3</text>
<circle cx="279.20" cy="576.90" r="2.9" fill="#a50b30"/>
<circle cx="275.40" cy="591.50" r="2.9" fill="#a50b30"/>
<circle cx="283.10" cy="598.30" r="2.9" fill="#a50b30"/>
<circle cx="287.50" cy="597.30" r="2.9" fill="#a50b30"/>
<circle cx="271.20" cy="606.20" r="2.9" fill="#a50b30"/>
<circle cx="275.40" cy="610.80" r="2.9" fill="#a50b30"/>
<circle cx="287.50" cy="614.20" r="2.9" fill="#a50b30"/>
<circle cx="283.10" cy="617.70" r="2.9" fill="#a50b30"/>
<circle cx="275.40" cy="625.80" r="2.9" fill="#a50b30"/>
<circle cx="270.20" cy="629.60" r="2.9" fill="#a50b30"/>
<circle cx="288.10" cy="629.20" r="2.9" fill="#a50b30"/>
<circle cx="274.00" cy="632.50" r="2.9" fill="#a50b30"/>
<circle cx="282.70" cy="634.40" r="2.9" fill="#a50b30"/>
<circle cx="277.90" cy="635.40" r="2.9" fill="#a50b30"/>
<circle cx="269.20" cy="638.30" r="2.9" fill="#a50b30"/>
<circle cx="274.50" cy="644.00" r="2.9" fill="#a50b30"/>
<circle cx="279.20" cy="644.00" r="2.9" fill="#a50b30"/>
<circle cx="284.00" cy="644.00" r="2.9" fill="#a50b30"/>
<circle cx="288.80" cy="644.00" r="2.9" fill="#a50b30"/>
<circle cx="271.50" cy="633.00" r="2.9" fill="#a50b30"/>
<line x1="279.20" y1="605.20" x2="279.20" y2="644.00" stroke="#1a1a1a" stroke-width="1.7"/>
<line x1="273.10" y1="605.20" x2="285.30" y2="605.20" stroke="#1a1a1a" stroke-width="2"/>
<line x1="273.10" y1="644.00" x2="285.30" y2="644.00" stroke="#1a1a1a" stroke-width="2"/>
<line x1="266.00" y1="623.80" x2="292.40" y2="623.80" stroke="#1a1a1a" stroke-width="2.2"/>
<rect x="315.90" y="543.00" width="5.4" height="5.4" fill="#a50b30"/>
<rect x="315.90" y="580.50" width="5.4" height="5.4" fill="#a50b30"/>
<rect x="315.90" y="600.50" width="5.4" height="5.4" fill="#a50b30"/>
<rect x="308.40" y="615.00" width="5.4" height="5.4" fill="#a50b30"/>
<rect x="323.70" y="615.00" width="5.4" height="5.4" fill="#a50b30"/>
<rect x="311.80" y="626.40" width="5.4" height="5.4" fill="#a50b30"/>
<rect x="319.80" y="629.30" width="5.4" height="5.4" fill="#a50b30"/>
<rect x="309.10" y="641.30" width="5.4" height="5.4" fill="#a50b30"/>
<rect x="312.80" y="641.30" width="5.4" height="5.4" fill="#a50b30"/>
<rect x="316.30" y="641.30" width="5.4" height="5.4" fill="#a50b30"/>
<rect x="319.80" y="641.30" width="5.4" height="5.4" fill="#a50b30"/>
<rect x="323.30" y="641.30" width="5.4" height="5.4" fill="#a50b30"/>
<circle cx="318.60" cy="622.30" r="2.5" fill="#111"/>
<line x1="318.60" y1="594.10" x2="318.60" y2="651.00" stroke="#1a1a1a" stroke-width="1.7"/>
<line x1="311.55" y1="594.10" x2="325.65" y2="594.10" stroke="#1a1a1a" stroke-width="2"/>
<line x1="311.55" y1="651.00" x2="325.65" y2="651.00" stroke="#1a1a1a" stroke-width="2"/>
<line x1="305.55" y1="622.30" x2="331.65" y2="622.30" stroke="#1a1a1a" stroke-width="2.2"/>
<text x="355.30" y="505.30" font-size="16.5" fill="#000" stroke="#000" stroke-width="0.25" font-weight="bold" textLength="11.92" lengthAdjust="spacingAndGlyphs">H</text>
<line x1="427.20" y1="521.00" x2="427.20" y2="652.80" stroke="#1a1a1a" stroke-width="1.8"/>
<line x1="422.90" y1="651.80" x2="427.20" y2="651.80" stroke="#1a1a1a" stroke-width="1.6"/>
<text x="401.94" y="655.55" font-size="10.8" fill="#1a1a1a" stroke="#1a1a1a" stroke-width="0.25" textLength="15.91" lengthAdjust="spacingAndGlyphs">0.1</text>
<line x1="422.90" y1="619.60" x2="427.20" y2="619.60" stroke="#1a1a1a" stroke-width="1.6"/>
<text x="411.49" y="623.35" font-size="10.8" fill="#1a1a1a" stroke="#1a1a1a" stroke-width="0.25" textLength="6.37" lengthAdjust="spacingAndGlyphs">1</text>
<line x1="422.90" y1="587.40" x2="427.20" y2="587.40" stroke="#1a1a1a" stroke-width="1.6"/>
<text x="405.01" y="591.15" font-size="10.8" fill="#1a1a1a" stroke="#1a1a1a" stroke-width="0.25" textLength="12.73" lengthAdjust="spacingAndGlyphs">10</text>
<line x1="422.90" y1="555.20" x2="427.20" y2="555.20" stroke="#1a1a1a" stroke-width="1.6"/>
<text x="398.65" y="558.95" font-size="10.8" fill="#1a1a1a" stroke="#1a1a1a" stroke-width="0.25" textLength="19.10" lengthAdjust="spacingAndGlyphs">100</text>
<line x1="422.90" y1="523.00" x2="427.20" y2="523.00" stroke="#1a1a1a" stroke-width="1.6"/>
<text x="392.28" y="526.75" font-size="10.8" fill="#1a1a1a" stroke="#1a1a1a" stroke-width="0.25" textLength="25.47" lengthAdjust="spacingAndGlyphs">1000</text>
<line x1="425.00" y1="642.11" x2="427.20" y2="642.11" stroke="#1a1a1a" stroke-width="1"/>
<line x1="425.00" y1="636.44" x2="427.20" y2="636.44" stroke="#1a1a1a" stroke-width="1"/>
<line x1="425.00" y1="632.41" x2="427.20" y2="632.41" stroke="#1a1a1a" stroke-width="1"/>
<line x1="425.00" y1="629.29" x2="427.20" y2="629.29" stroke="#1a1a1a" stroke-width="1"/>
<line x1="425.00" y1="626.74" x2="427.20" y2="626.74" stroke="#1a1a1a" stroke-width="1"/>
<line x1="425.00" y1="624.59" x2="427.20" y2="624.59" stroke="#1a1a1a" stroke-width="1"/>
<line x1="425.00" y1="622.72" x2="427.20" y2="622.72" stroke="#1a1a1a" stroke-width="1"/>
<line x1="425.00" y1="621.07" x2="427.20" y2="621.07" stroke="#1a1a1a" stroke-width="1"/>
<line x1="425.00" y1="609.91" x2="427.20" y2="609.91" stroke="#1a1a1a" stroke-width="1"/>
<line x1="425.00" y1="604.24" x2="427.20" y2="604.24" stroke="#1a1a1a" stroke-width="1"/>
<line x1="425.00" y1="600.21" x2="427.20" y2="600.21" stroke="#1a1a1a" stroke-width="1"/>
<line x1="425.00" y1="597.09" x2="427.20" y2="597.09" stroke="#1a1a1a" stroke-width="1"/>
<line x1="425.00" y1="594.54" x2="427.20" y2="594.54" stroke="#1a1a1a" stroke-width="1"/>
<line x1="425.00" y1="592.39" x2="427.20" y2="592.39" stroke="#1a1a1a" stroke-width="1"/>
<line x1="425.00" y1="590.52" x2="427.20" y2="590.52" stroke="#1a1a1a" stroke-width="1"/>
<line x1="425.00" y1="588.87" x2="427.20" y2="588.87" stroke="#1a1a1a" stroke-width="1"/>
<line x1="425.00" y1="577.71" x2="427.20" y2="577.71" stroke="#1a1a1a" stroke-width="1"/>
<line x1="425.00" y1="572.04" x2="427.20" y2="572.04" stroke="#1a1a1a" stroke-width="1"/>
<line x1="425.00" y1="568.01" x2="427.20" y2="568.01" stroke="#1a1a1a" stroke-width="1"/>
<line x1="425.00" y1="564.89" x2="427.20" y2="564.89" stroke="#1a1a1a" stroke-width="1"/>
<line x1="425.00" y1="562.34" x2="427.20" y2="562.34" stroke="#1a1a1a" stroke-width="1"/>
<line x1="425.00" y1="560.19" x2="427.20" y2="560.19" stroke="#1a1a1a" stroke-width="1"/>
<line x1="425.00" y1="558.32" x2="427.20" y2="558.32" stroke="#1a1a1a" stroke-width="1"/>
<line x1="425.00" y1="556.67" x2="427.20" y2="556.67" stroke="#1a1a1a" stroke-width="1"/>
<line x1="425.00" y1="545.51" x2="427.20" y2="545.51" stroke="#1a1a1a" stroke-width="1"/>
<line x1="425.00" y1="539.84" x2="427.20" y2="539.84" stroke="#1a1a1a" stroke-width="1"/>
<line x1="425.00" y1="535.81" x2="427.20" y2="535.81" stroke="#1a1a1a" stroke-width="1"/>
<line x1="425.00" y1="532.69" x2="427.20" y2="532.69" stroke="#1a1a1a" stroke-width="1"/>
<line x1="425.00" y1="530.14" x2="427.20" y2="530.14" stroke="#1a1a1a" stroke-width="1"/>
<line x1="425.00" y1="527.99" x2="427.20" y2="527.99" stroke="#1a1a1a" stroke-width="1"/>
<line x1="425.00" y1="526.12" x2="427.20" y2="526.12" stroke="#1a1a1a" stroke-width="1"/>
<line x1="425.00" y1="524.47" x2="427.20" y2="524.47" stroke="#1a1a1a" stroke-width="1"/>
<line x1="426.30" y1="651.90" x2="500.00" y2="651.90" stroke="#1a1a1a" stroke-width="1.9"/>
<line x1="445.50" y1="651.70" x2="445.50" y2="656.80" stroke="#1a1a1a" stroke-width="1.6"/>
<text x="437.61" y="670.00" font-size="10.8" fill="#1a1a1a" stroke="#1a1a1a" stroke-width="0.25" textLength="15.50" lengthAdjust="spacingAndGlyphs">No</text>
<line x1="481.80" y1="651.70" x2="481.80" y2="656.80" stroke="#1a1a1a" stroke-width="1.6"/>
<text x="472.25" y="670.00" font-size="10.8" fill="#1a1a1a" stroke="#1a1a1a" stroke-width="0.25" textLength="19.97" lengthAdjust="spacingAndGlyphs">Yes</text>
<text x="418.32" y="689.30" font-size="14.2" fill="#1a1a1a" stroke="#1a1a1a" stroke-width="0.25" textLength="90.47" lengthAdjust="spacingAndGlyphs"><tspan font-style="italic">CSF3R</tspan> mutation</text>
<text x="0" y="0" font-size="13.4" fill="#1a1a1a" stroke="#1a1a1a" stroke-width="0.25" textLength="79.56" lengthAdjust="spacingAndGlyphs" transform="translate(365.40,626.38) rotate(-90)">Median G-CSF</text>
<text x="0" y="0" font-size="13.4" fill="#1a1a1a" stroke="#1a1a1a" stroke-width="0.25" textLength="52.65" lengthAdjust="spacingAndGlyphs" transform="translate(381.90,611.52) rotate(-90)">(μg/kg/d)</text>
<circle cx="445.50" cy="546.80" r="2.9" fill="#a50b30"/>
<circle cx="436.60" cy="575.80" r="2.9" fill="#a50b30"/>
<circle cx="441.20" cy="577.90" r="2.9" fill="#a50b30"/>
<circle cx="454.00" cy="576.70" r="2.9" fill="#a50b30"/>
<circle cx="450.20" cy="578.90" r="2.9" fill="#a50b30"/>
<circle cx="438.60" cy="584.70" r="2.9" fill="#a50b30"/>
<circle cx="442.00" cy="585.70" r="2.9" fill="#a50b30"/>
<circle cx="450.60" cy="585.20" r="2.9" fill="#a50b30"/>
<circle cx="443.40" cy="589.80" r="2.9" fill="#a50b30"/>
<circle cx="447.50" cy="589.80" r="2.9" fill="#a50b30"/>
<circle cx="436.10" cy="599.40" r="2.9" fill="#a50b30"/>
<circle cx="454.90" cy="598.00" r="2.9" fill="#a50b30"/>
<circle cx="442.10" cy="603.10" r="2.9" fill="#a50b30"/>
<circle cx="448.50" cy="601.40" r="2.9" fill="#a50b30"/>
<circle cx="439.50" cy="606.90" r="2.9" fill="#a50b30"/>
<circle cx="451.40" cy="607.90" r="2.9" fill="#a50b30"/>
<circle cx="443.40" cy="611.30" r="2.9" fill="#a50b30"/>
<circle cx="447.20" cy="611.70" r="2.9" fill="#a50b30"/>
<circle cx="445.50" cy="626.70" r="2.9" fill="#a50b30"/>
<line x1="445.50" y1="564.70" x2="445.50" y2="585.00" stroke="#1a1a1a" stroke-width="1.7"/>
<line x1="439.00" y1="564.70" x2="452.30" y2="564.70" stroke="#1a1a1a" stroke-width="2"/>
<line x1="433.20" y1="580.90" x2="457.80" y2="580.90" stroke="#1a1a1a" stroke-width="2.2"/>
<rect x="479.10" y="561.20" width="5.4" height="5.4" fill="#a50b30"/>
<rect x="474.90" y="578.60" width="5.4" height="5.4" fill="#a50b30"/>
<rect x="483.40" y="578.60" width="5.4" height="5.4" fill="#a50b30"/>
<rect x="475.20" y="589.30" width="5.4" height="5.4" fill="#a50b30"/>
<rect x="482.90" y="592.70" width="5.4" height="5.4" fill="#a50b30"/>
<rect x="488.00" y="592.70" width="5.4" height="5.4" fill="#a50b30"/>
<rect x="469.70" y="594.50" width="5.4" height="5.4" fill="#a50b30"/>
<rect x="482.00" y="595.00" width="5.4" height="5.4" fill="#a50b30"/>
<rect x="476.60" y="599.60" width="5.4" height="5.4" fill="#a50b30"/>
<rect x="486.80" y="605.90" width="5.4" height="5.4" fill="#a50b30"/>
<rect x="467.50" y="607.60" width="5.4" height="5.4" fill="#a50b30"/>
<rect x="479.10" y="610.30" width="5.4" height="5.4" fill="#a50b30"/>
<rect x="471.40" y="613.20" width="5.4" height="5.4" fill="#a50b30"/>
<rect x="486.80" y="614.40" width="5.4" height="5.4" fill="#a50b30"/>
<rect x="479.10" y="620.00" width="5.4" height="5.4" fill="#a50b30"/>
<line x1="481.80" y1="576.70" x2="481.80" y2="596.00" stroke="#1a1a1a" stroke-width="1.7"/>
<line x1="475.30" y1="576.70" x2="488.50" y2="576.70" stroke="#1a1a1a" stroke-width="2"/>
<line x1="469.70" y1="589.80" x2="493.60" y2="589.80" stroke="#1a1a1a" stroke-width="2.2"/>
</svg></div></body></html>
